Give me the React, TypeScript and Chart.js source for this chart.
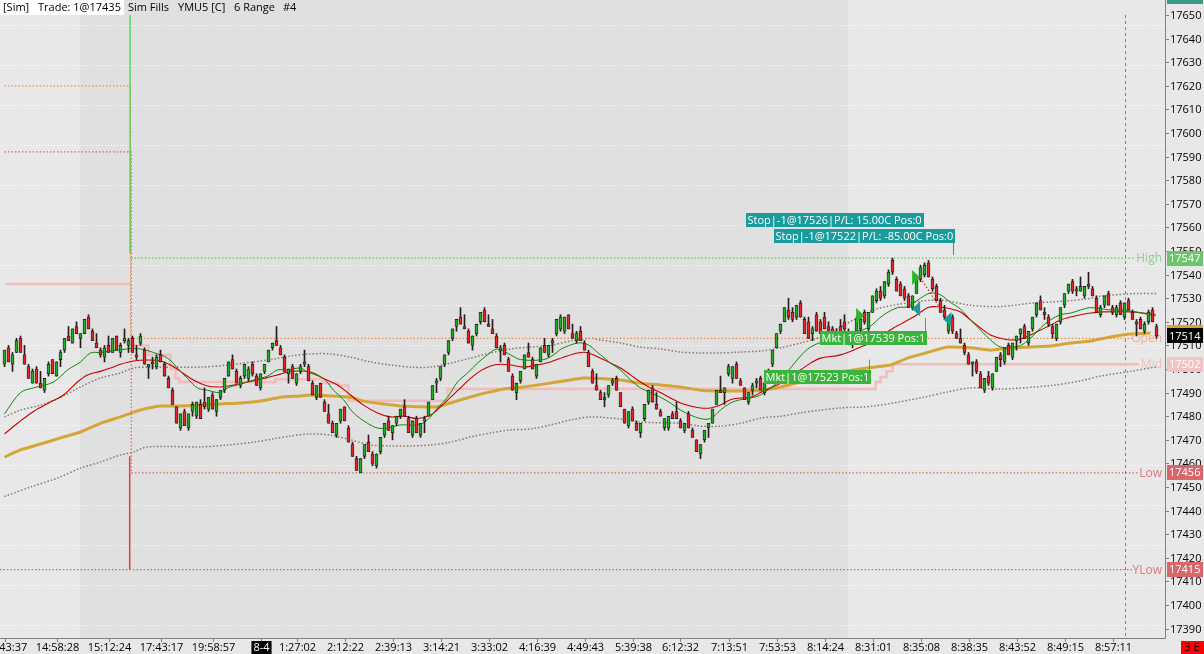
import React, { useEffect, useRef } from "react";
import { Chart, registerables } from "chart.js";

Chart.register(...registerables);

// ---------------- price bars (6 Range, YMU5) ----------------
const opens = [
  17502, 17509, 17502, 17507, 17513, 17506, 17501, 17494, 17500, 17494,
  17491, 17498, 17504, 17497, 17504, 17508, 17514, 17511, 17518, 17513,
  17515, 17522, 17516, 17511, 17508, 17505, 17510, 17507, 17514, 17507,
  17512, 17510, 17513, 17506, 17511, 17508, 17501, 17503, 17501, 17506,
  17502, 17496, 17491, 17484, 17475, 17482, 17475, 17482, 17480, 17485,
  17486, 17483, 17489, 17482, 17488, 17491, 17497, 17504, 17499, 17493,
  17497, 17496, 17502, 17497, 17492, 17499, 17503, 17509, 17512, 17509,
  17505, 17498, 17501, 17494, 17499, 17502, 17501, 17494, 17488, 17494,
  17486, 17481, 17477, 17472, 17478, 17484, 17475, 17468, 17462, 17456,
  17463, 17469, 17464, 17459, 17465, 17472, 17478, 17473, 17477, 17480,
  17484, 17479, 17472, 17479, 17472, 17478, 17480, 17487, 17494, 17496,
  17502, 17507, 17513, 17518, 17522, 17518, 17516, 17510, 17515, 17520,
  17525, 17519, 17517, 17514, 17508, 17510, 17504, 17497, 17490, 17495,
  17500, 17507, 17504, 17497, 17503, 17510, 17506, 17511, 17515, 17517,
  17516, 17523, 17515, 17512, 17516, 17511, 17507, 17499, 17493, 17490,
  17487, 17489, 17494, 17496, 17490, 17483, 17476, 17483, 17477, 17473,
  17479, 17486, 17492, 17485, 17482, 17475, 17475, 17481, 17482, 17478,
  17474, 17481, 17474, 17470, 17464, 17470, 17475, 17477, 17485, 17491,
  17490, 17498, 17496, 17502, 17495, 17492, 17486, 17491, 17494, 17496,
  17490, 17495, 17502, 17509, 17516, 17520, 17525, 17524, 17522, 17528,
  17521, 17520, 17515, 17523, 17520, 17522, 17518, 17517, 17512, 17518,
  17520, 17512, 17513, 17516, 17517, 17524, 17517, 17524, 17529, 17533,
  17531, 17536, 17546, 17538, 17536, 17534, 17531, 17526, 17532, 17538,
  17540, 17545, 17538, 17535, 17529, 17525, 17516, 17522, 17515, 17513,
  17510, 17506, 17502, 17503, 17498, 17491, 17497, 17492, 17499, 17506,
  17503, 17510, 17505, 17512, 17515, 17518, 17511, 17517, 17523, 17529,
  17524, 17522, 17518, 17513, 17520, 17527, 17533, 17537, 17533, 17533,
  17531, 17536, 17534, 17530, 17523, 17527, 17532, 17526, 17523, 17528,
  17522, 17529, 17524, 17520, 17521, 17516, 17520, 17525, 17518,
];
const highs = [
  17508, 17510, 17507, 17513, 17514, 17510, 17502, 17500, 17501, 17499,
  17496, 17503, 17504, 17503, 17508, 17513, 17518, 17517, 17520, 17515,
  17521, 17523, 17517, 17515, 17509, 17510, 17514, 17513, 17514, 17511,
  17517, 17513, 17514, 17510, 17515, 17509, 17502, 17505, 17506, 17508,
  17503, 17497, 17492, 17484, 17481, 17483, 17481, 17486, 17486, 17487,
  17492, 17488, 17490, 17487, 17491, 17496, 17503, 17506, 17500, 17497,
  17502, 17501, 17503, 17498, 17498, 17502, 17508, 17511, 17518, 17510,
  17506, 17500, 17502, 17498, 17502, 17508, 17502, 17495, 17493, 17494,
  17487, 17485, 17478, 17477, 17483, 17484, 17476, 17469, 17463, 17462,
  17468, 17472, 17465, 17464, 17471, 17477, 17480, 17476, 17480, 17483,
  17487, 17480, 17478, 17480, 17477, 17480, 17486, 17493, 17496, 17501,
  17506, 17512, 17517, 17521, 17526, 17523, 17517, 17514, 17519, 17524,
  17526, 17523, 17521, 17515, 17510, 17511, 17505, 17498, 17494, 17499,
  17506, 17511, 17505, 17502, 17509, 17513, 17510, 17513, 17521, 17523,
  17522, 17523, 17519, 17516, 17518, 17512, 17508, 17500, 17498, 17491,
  17490, 17493, 17496, 17497, 17490, 17483, 17482, 17484, 17478, 17477,
  17485, 17491, 17493, 17490, 17483, 17479, 17480, 17482, 17486, 17479,
  17477, 17482, 17475, 17470, 17468, 17474, 17477, 17483, 17491, 17497,
  17492, 17502, 17501, 17503, 17496, 17492, 17490, 17494, 17496, 17497,
  17494, 17500, 17508, 17515, 17519, 17526, 17530, 17526, 17527, 17529,
  17522, 17522, 17518, 17524, 17521, 17524, 17520, 17518, 17517, 17521,
  17523, 17517, 17516, 17522, 17522, 17525, 17524, 17531, 17534, 17535,
  17537, 17542, 17547, 17539, 17537, 17535, 17532, 17531, 17539, 17544,
  17545, 17546, 17539, 17536, 17530, 17527, 17522, 17523, 17516, 17517,
  17511, 17507, 17503, 17504, 17499, 17496, 17499, 17498, 17505, 17507,
  17509, 17511, 17511, 17514, 17517, 17519, 17516, 17522, 17528, 17531,
  17526, 17523, 17519, 17519, 17526, 17532, 17536, 17538, 17535, 17539,
  17535, 17541, 17535, 17531, 17527, 17531, 17533, 17527, 17527, 17529,
  17528, 17530, 17525, 17521, 17522, 17520, 17525, 17526, 17519,
];
const lows = [
  17501, 17503, 17499, 17507, 17507, 17502, 17496, 17494, 17494, 17492,
  17490, 17497, 17498, 17497, 17501, 17507, 17512, 17511, 17515, 17509,
  17515, 17517, 17512, 17509, 17505, 17503, 17507, 17507, 17508, 17505,
  17511, 17507, 17507, 17504, 17510, 17502, 17496, 17500, 17500, 17503,
  17497, 17492, 17485, 17477, 17474, 17476, 17474, 17480, 17479, 17479,
  17483, 17482, 17483, 17480, 17487, 17490, 17497, 17500, 17494, 17492,
  17496, 17495, 17497, 17493, 17491, 17498, 17503, 17508, 17510, 17506,
  17499, 17494, 17496, 17493, 17498, 17501, 17495, 17489, 17487, 17488,
  17482, 17477, 17473, 17471, 17477, 17478, 17469, 17463, 17457, 17456,
  17462, 17465, 17459, 17458, 17464, 17471, 17474, 17470, 17476, 17479,
  17480, 17473, 17471, 17473, 17471, 17473, 17480, 17487, 17490, 17495,
  17501, 17506, 17512, 17516, 17519, 17517, 17511, 17508, 17514, 17519,
  17520, 17518, 17515, 17509, 17503, 17506, 17499, 17491, 17487, 17494,
  17500, 17505, 17500, 17496, 17503, 17507, 17505, 17507, 17514, 17516,
  17515, 17517, 17513, 17511, 17512, 17508, 17501, 17494, 17491, 17487,
  17484, 17488, 17493, 17491, 17484, 17477, 17475, 17478, 17474, 17471,
  17478, 17485, 17486, 17483, 17480, 17474, 17474, 17479, 17479, 17475,
  17473, 17475, 17471, 17465, 17462, 17469, 17471, 17477, 17485, 17490,
  17485, 17497, 17494, 17496, 17493, 17487, 17485, 17489, 17492, 17491,
  17489, 17494, 17501, 17509, 17515, 17520, 17521, 17520, 17521, 17522,
  17515, 17513, 17512, 17516, 17515, 17517, 17515, 17511, 17511, 17514,
  17516, 17511, 17509, 17515, 17516, 17519, 17516, 17524, 17528, 17529,
  17530, 17535, 17540, 17533, 17531, 17529, 17526, 17525, 17532, 17537,
  17539, 17539, 17533, 17529, 17524, 17521, 17515, 17515, 17513, 17511,
  17506, 17502, 17497, 17498, 17492, 17490, 17493, 17491, 17499, 17501,
  17502, 17506, 17504, 17508, 17511, 17513, 17510, 17516, 17522, 17525,
  17521, 17518, 17513, 17512, 17519, 17526, 17532, 17532, 17531, 17533,
  17530, 17534, 17531, 17524, 17522, 17526, 17527, 17523, 17522, 17523,
  17521, 17525, 17521, 17514, 17517, 17515, 17519, 17520, 17513,
];
const closes = [
  17508, 17503, 17506, 17512, 17507, 17502, 17496, 17499, 17494, 17492,
  17496, 17502, 17498, 17503, 17507, 17513, 17512, 17517, 17515, 17515,
  17521, 17517, 17512, 17509, 17506, 17509, 17507, 17513, 17508, 17510,
  17513, 17512, 17507, 17505, 17514, 17502, 17502, 17502, 17505, 17503,
  17497, 17492, 17485, 17477, 17481, 17476, 17481, 17485, 17486, 17479,
  17484, 17488, 17483, 17487, 17491, 17496, 17503, 17500, 17494, 17496,
  17502, 17500, 17498, 17493, 17498, 17502, 17508, 17511, 17510, 17506,
  17499, 17500, 17496, 17498, 17501, 17503, 17495, 17489, 17493, 17488,
  17482, 17477, 17473, 17477, 17483, 17478, 17469, 17463, 17457, 17462,
  17468, 17465, 17460, 17464, 17471, 17477, 17474, 17476, 17480, 17483,
  17480, 17473, 17478, 17473, 17477, 17479, 17486, 17493, 17495, 17501,
  17506, 17512, 17517, 17521, 17519, 17517, 17511, 17514, 17519, 17524,
  17520, 17518, 17515, 17509, 17509, 17506, 17499, 17491, 17494, 17499,
  17506, 17505, 17500, 17502, 17509, 17507, 17510, 17512, 17521, 17522,
  17522, 17517, 17513, 17515, 17512, 17508, 17501, 17494, 17491, 17487,
  17488, 17493, 17495, 17491, 17484, 17477, 17482, 17478, 17474, 17477,
  17485, 17491, 17486, 17483, 17480, 17479, 17480, 17479, 17479, 17475,
  17477, 17475, 17471, 17465, 17468, 17474, 17477, 17483, 17491, 17490,
  17492, 17501, 17501, 17496, 17493, 17487, 17490, 17493, 17495, 17491,
  17494, 17499, 17508, 17515, 17519, 17526, 17522, 17521, 17527, 17522,
  17515, 17513, 17517, 17516, 17515, 17517, 17516, 17512, 17516, 17515,
  17517, 17516, 17516, 17521, 17521, 17520, 17524, 17531, 17533, 17530,
  17537, 17541, 17541, 17533, 17531, 17530, 17526, 17531, 17539, 17543,
  17544, 17539, 17534, 17529, 17524, 17522, 17521, 17516, 17513, 17511,
  17507, 17502, 17503, 17499, 17492, 17496, 17494, 17498, 17505, 17504,
  17509, 17506, 17511, 17514, 17517, 17513, 17516, 17522, 17528, 17525,
  17523, 17519, 17515, 17519, 17526, 17532, 17536, 17533, 17534, 17535,
  17535, 17535, 17531, 17524, 17526, 17531, 17527, 17524, 17526, 17523,
  17528, 17525, 17521, 17519, 17517, 17519, 17524, 17520, 17514,
];

// ---------------- indicators: [bar index, price] ----------------
const emaFast = [
  [0, 17481], [4, 17490], [7.25, 17492], [12.25, 17494.5], [15.75, 17499.6], [19, 17503],
  [21.5, 17506.8], [24, 17507], [30.75, 17508.5], [34, 17508.5], [37.25, 17507], [40.75, 17504.6],
  [44, 17499], [45.75, 17496], [48.25, 17492], [50.75, 17491], [54, 17490], [55.75, 17492],
  [59, 17493.6], [62.25, 17495.3], [65.75, 17497], [68.25, 17499.6], [70.75, 17499.6], [74, 17500.4],
  [75.75, 17498.7], [79.75, 17496], [82.25, 17491], [84.75, 17487], [87.25, 17481.4], [90.75, 17477],
  [93.25, 17475], [95.75, 17475], [99, 17476.3], [103.25, 17476.3], [105.75, 17478.4], [108.25, 17483.5],
  [110.75, 17488], [113.25, 17494.5], [115.75, 17498.3], [118.25, 17502.5], [120.75, 17506], [123.25, 17508.5],
  [126.5, 17506], [129, 17504], [134.75, 17504], [137.25, 17506], [139.75, 17509], [144.75, 17511],
  [149, 17506], [151.5, 17502.5], [154, 17499.6], [156.5, 17495.3], [159, 17492], [161.5, 17490],
  [164, 17488], [166.5, 17485.6], [169, 17482.6], [171.5, 17480.5], [174, 17479], [176.5, 17479],
  [179, 17482.6], [181.5, 17485.6], [184, 17487], [186.5, 17487.7], [189, 17489], [191.5, 17492],
  [194, 17495.3], [196.5, 17500.4], [199, 17505.5], [201.5, 17509.3], [205.75, 17512.3], [210.75, 17515],
  [215.75, 17517.4], [219.75, 17522.9], [223.25, 17526], [225.75, 17526.4], [229, 17530], [231.5, 17532.2],
  [234, 17531.4], [236.5, 17528.2], [239, 17525.4], [241.5, 17520.8], [244, 17516.5], [246.5, 17512.3],
  [249, 17509.3], [251.5, 17509.3], [254, 17510], [256.5, 17513], [259, 17517.4], [261.5, 17520.8],
  [264, 17523], [266.5, 17523.7], [269, 17525], [271.5, 17526], [276.5, 17525], [279.75, 17525],
  [283.25, 17524], [287.75, 17522.5],
];
const emaSlow = [
  [0, 17472.5], [3.25, 17477], [7.25, 17482], [11.5, 17486], [14.75, 17489], [18.25, 17494.5],
  [20.75, 17497.5], [24, 17499], [26.5, 17500.4], [29, 17502], [32.25, 17503.4], [35.75, 17503.8],
  [39, 17503.4], [41.5, 17501.7], [44, 17499], [47.25, 17495.3], [50.75, 17492.8], [54, 17492.4],
  [57.25, 17493.2], [60.75, 17494.5], [64.75, 17496], [68.25, 17497.5], [71.5, 17499], [76.5, 17498.7],
  [79.75, 17496], [83.25, 17493.2], [86.5, 17489], [89.75, 17484.7], [93.25, 17481.4], [96.5, 17479.7],
  [99.75, 17480], [103.25, 17479], [106.5, 17480.5], [109, 17484], [111.5, 17488], [114, 17492],
  [116.5, 17496], [119, 17499.2], [121.5, 17501.3], [124, 17502], [126.5, 17501.7], [129.75, 17500.8],
  [133.25, 17501.7], [136.5, 17503], [139.75, 17505], [143.25, 17506.8], [145.5, 17507], [149, 17504.6],
  [151.5, 17502.5], [154, 17500.4], [156.5, 17497.5], [159, 17494.5], [161.5, 17492], [164, 17490],
  [166.5, 17487.7], [169, 17485.6], [171.5, 17484.3], [174, 17483.5], [176.5, 17483.5], [179, 17484.7],
  [181.5, 17487], [184, 17487.7], [186.5, 17488], [189, 17490], [191.5, 17492], [194, 17494],
  [196.5, 17496.6], [199, 17499.6], [201.5, 17502.5], [204, 17504.6], [209, 17506], [214, 17509.3],
  [217.25, 17511.8], [222.25, 17517.4], [227.25, 17522], [230.75, 17526], [233.25, 17526.4], [236.5, 17525.5],
  [239, 17524.2], [241.5, 17520.8], [244, 17517.4], [246.5, 17514.4], [249, 17513], [251.5, 17512.3],
  [254, 17512.7], [256.5, 17514.4], [259, 17516.5], [261.5, 17518.6], [264, 17520.8], [266.5, 17522],
  [269, 17523], [271.5, 17523.7], [274.75, 17524.2], [281.5, 17524.2], [284.75, 17523.7], [287.75, 17523],
];
const smaGold = [
  [0, 17462.7], [4, 17465.7], [9, 17468.2], [14, 17470.8], [19, 17473.3], [24, 17477],
  [29, 17479.7], [34, 17482.6], [39, 17484.3], [44, 17484.3], [49, 17484.7], [54, 17485.2],
  [59, 17485.6], [64, 17486.4], [69, 17488], [74, 17488.6], [76.5, 17489], [81.5, 17488.6],
  [86.5, 17488], [89.75, 17486.4], [94.75, 17485.2], [99.75, 17484.3], [108.25, 17484], [111.5, 17485.6],
  [114.75, 17487.3], [118.25, 17489], [121.5, 17490.3], [124.75, 17491.5], [129.75, 17492.4], [134.75, 17493.6],
  [139.75, 17494.9], [144.75, 17496.2], [149, 17496], [154, 17495.3], [159, 17494], [164, 17493.2],
  [169, 17492.4], [174, 17491], [179, 17490.7], [184, 17490.7], [189, 17491], [194, 17492.4],
  [199, 17494.5], [204, 17497], [209, 17498.7], [214, 17500], [218.25, 17501], [221.5, 17501.7],
  [225.75, 17504.6], [230.75, 17507], [235.75, 17509.3], [241.5, 17509], [246.5, 17508], [251.5, 17508.9],
  [256.5, 17509.3], [261.5, 17509.7], [266.5, 17511], [271.5, 17511.9], [276.5, 17513.6], [281.5, 17514.8],
  [286.5, 17515.3],
];
const bandUpper = [
  [0, 17479.7], [4, 17482.6], [9, 17484.7], [14, 17488], [19, 17492.4], [24, 17496.2],
  [29, 17498.3], [32.25, 17500.4], [35.75, 17500.8], [49, 17500.8], [55.75, 17501.7], [62.25, 17503],
  [67.25, 17504.2], [71.5, 17505.5], [76.5, 17506.4], [81.5, 17506.4], [86.5, 17505], [91.5, 17503],
  [96.5, 17501.7], [101.5, 17500.8], [106.5, 17500.8], [111.5, 17502.5], [116.5, 17504.6], [121.5, 17506.8],
  [126.5, 17508.5], [131.5, 17509.3], [136.5, 17510], [141.5, 17511.9], [146.5, 17513], [149, 17512.3],
  [154, 17511], [159, 17509.3], [164, 17508.5], [169, 17507.2], [174, 17506.8], [179, 17506.8],
  [184, 17507.2], [189, 17507.6], [194, 17509], [199, 17511], [204, 17513.6], [209, 17517.8],
  [217.25, 17525], [225.75, 17528], [234, 17529.2], [241.5, 17527], [249, 17526.5], [257.25, 17528],
  [261.5, 17528.4], [269.75, 17529.5], [274.75, 17531], [283.25, 17532], [288.25, 17532],
];
const bandLower = [
  [0, 17446], [6.5, 17450], [13.25, 17453.8], [19, 17458], [24, 17460.6], [29, 17463.6],
  [32.25, 17464.8], [35.75, 17467], [49, 17467], [55.75, 17467.8], [62.25, 17469], [67.25, 17470.4],
  [71.5, 17471.6], [76.5, 17472.5], [81.5, 17472], [86.5, 17470], [91.5, 17467.8], [96.5, 17467.4],
  [101.5, 17467.4], [106.5, 17467.8], [111.5, 17469], [116.5, 17471.2], [121.5, 17472.9], [126.5, 17474.2],
  [131.5, 17474.6], [136.5, 17476.3], [141.5, 17478.4], [146.5, 17479.7], [154, 17478.8], [159, 17477.5],
  [169, 17477], [174, 17475.8], [179, 17475.8], [184, 17477], [189, 17479.2], [194, 17480],
  [199, 17481.4], [204, 17482.6], [209, 17483.5], [217.25, 17484.3], [229.75, 17488], [235.75, 17490.3],
  [241.5, 17492], [249, 17491.5], [261.5, 17493], [269, 17495], [274, 17497], [281.5, 17499],
  [288.25, 17501],
];
const midPrior = [[0.25, 17536], [31.5, 17536]];
const midSession = [
  [32, 17510], [36, 17506], [41.5, 17500], [42.75, 17496], [43.75, 17494.5], [67.75, 17495.7],
  [79.75, 17494], [83.5, 17493], [86, 17486.5], [110.75, 17491.5], [217.75, 17494.5], [219, 17496.6],
  [220.5, 17499], [222, 17502], [283.5, 17502],
];
const highJump = [[31.4, 17650], [31.4, 17549]];
const highLevel = [[31.6, 17547], [282.75, 17547]];
const openLevel = [[0, 17620], [31.5, 17620], [31.5, 17513], [282.25, 17513]];
const lowLevel = [[0, 17592], [31.7, 17592], [31.7, 17456], [283.5, 17456]];
const yLowLevel = [[-1.125, 17415], [282, 17415]];
const lowJump = [[31.3, 17415], [31.3, 17463]];
const tradeLine = [[229, 17538.6], [235.5, 17521.6]];

const levelLabels = [
  { text: "High", value: 17547, color: "#8fd08f" },
  { text: "Open", value: 17513, color: "#f3ae88" },
  { text: "Mid", value: 17502, color: "#f2bfbf" },
  { text: "Low", value: 17456, color: "#df7878" },
  { text: "YLow", value: 17415, color: "#df7878" },
];
const priceBoxes = [
  { value: 17658, text: "17658", bg: "#3a9a86", fg: "#ffffff" },
  { value: 17547, text: "17547", bg: "#6cc46c", fg: "#ffffff" },
  { value: 17515.5, text: "17516", bg: "#d6a53a", fg: "#ffffff" },
  { value: 17514, text: "17514", bg: "#000000", fg: "#ffffff" },
  { value: 17502, text: "17502", bg: "#f1c3c3", fg: "#ffffff" },
  { value: 17456, text: "17456", bg: "#d8676a", fg: "#ffffff" },
  { value: 17415, text: "17415", bg: "#d8676a", fg: "#ffffff" },
];
const tradeBoxes = [
  { text: "Stop|-1@17526|P/L: 15.00C Pos:0", index: 185.25, value: 17563.3, bg: "#1a9c9c", tip: null },
  { text: "Stop|-1@17522|P/L: -85.00C Pos:0", index: 192.25, value: 17556.4, bg: "#1a9c9c", tip: 17548.3 },
  { text: "Mkt|1@17523 Pos:1", index: 189.75, value: 17496.8, bg: "#3bb43b", tip: 17504 },
  { text: "Mkt|1@17539 Pos:1", index: 203.75, value: 17513.3, bg: "#3bb43b", tip: 17521.6 },
];
const fillArrows = [
  { index: 213.9, value: 17522.7, dir: 1, color: "#2db52d" },
  { index: 227.9, value: 17538.8, dir: 1, color: "#2db52d" },
  { index: 227.9, value: 17525.5, dir: -1, color: "#1a9c9c" },
  { index: 235.75, value: 17521, dir: -1, color: "#1a9c9c" },
];

const yTicks = [
  17390, 17400, 17410, 17420, 17430, 17440, 17450, 17460, 17470, 17480, 17490, 17500, 17510, 17520,
  17530, 17540, 17550, 17560, 17570, 17580, 17590, 17600, 17610, 17620, 17630, 17640, 17650,
];
const gridValues = [
  17645.8, 17628.8, 17611.9, 17594.9, 17578.0, 17561.0, 17544.1, 17527.1, 17510.2, 17493.2, 17476.3,
  17459.3, 17442.4, 17425.4, 17408.5, 17391.5,
];
const timeTickIndex = [0, 13, 26, 39, 52, 64, 73, 85, 97, 109, 121, 133, 145, 157, 169, 181, 193, 205, 217, 229, 241, 253, 265, 277];
const timeLabels = [
  "14:43:37", "14:58:28", "15:12:24", "17:43:17", "19:58:57", "8-4", "1:27:02", "2:12:22", "2:39:13",
  "3:14:21", "3:33:02", "4:16:39", "4:49:43", "5:39:38", "6:12:32", "7:13:51", "7:53:53", "8:14:24",
  "8:31:01", "8:35:08", "8:38:35", "8:43:52", "8:49:15", "8:57:11",
];
const dateLabel = "8-4";

const X_MIN = -1.125;
const X_MAX = 290.125;
const Y_MIN = 17386.02;
const Y_MAX = 17656.36;
const SHADE_FROM = 18.75;
const SHADE_TO = 210.75;
const CURSOR_INDEX = 280.1;

const FONT = '"Open Sans", "DejaVu Sans", sans-serif';

export default function App() {
  const ref = useRef<HTMLCanvasElement>(null);

  useEffect(() => {
    const canvas = ref.current;
    if (!canvas) return;

    const toPts = (a: number[][]) => a.map(([x, y]) => ({ x, y }));
    const line = (label: string, pts: number[][], color: string, width: number, dash: number[], order: number, extra: any = {}) => ({
      type: "line" as const,
      label,
      data: toPts(pts),
      borderColor: color,
      borderWidth: width,
      borderDash: dash,
      pointRadius: 0,
      fill: false,
      tension: 0,
      order,
      ...extra,
    });

    const drawLevelLabels = (chart: any) => {
      const { ctx, scales } = chart;
      const y = scales.y;
      ctx.save();
      ctx.font = `12px ${FONT}`;
      ctx.textAlign = "right";
      ctx.textBaseline = "middle";
      for (const l of levelLabels) {
        ctx.fillStyle = l.color;
        ctx.fillText(l.text, 1162, y.getPixelForValue(l.value) + 0.5);
      }
      ctx.restore();
    };

    const plugin = {
      id: "ninjaDecor",
      beforeDraw(chart: any) {
        const { ctx, chartArea: a, scales } = chart;
        const x = scales.x;
        const y = scales.y;
        ctx.save();
        ctx.fillStyle = "#e8e8e8";
        ctx.fillRect(0, 0, chart.width, chart.height);
        const s0 = x.getPixelForValue(SHADE_FROM);
        const s1 = x.getPixelForValue(SHADE_TO);
        ctx.fillStyle = "#e0e0e0";
        ctx.fillRect(Math.round(s0), a.top, Math.round(s1 - s0), a.bottom - a.top);
        ctx.strokeStyle = "#ffffff";
        ctx.lineWidth = 1;
        ctx.setLineDash([1, 2]);
        for (const g of gridValues) {
          const py = Math.round(y.getPixelForValue(g)) + 0.5;
          ctx.beginPath();
          ctx.moveTo(a.left, py);
          ctx.lineTo(a.right, py);
          ctx.stroke();
        }
        ctx.strokeStyle = "#808080";
        ctx.setLineDash([3, 3]);
        const cx = Math.round(x.getPixelForValue(CURSOR_INDEX)) + 0.5;
        ctx.beginPath();
        ctx.moveTo(cx, a.top + 15);
        ctx.lineTo(cx, a.bottom);
        ctx.stroke();
        ctx.restore();
      },
      afterDatasetDraw(chart: any, args: any) {
        if (chart.data.datasets[args.index].label === "High") drawLevelLabels(chart);
      },
      afterDraw(chart: any) {
        const { ctx, chartArea: a, scales } = chart;
        const x = scales.x;
        const y = scales.y;
        ctx.save();
        ctx.setLineDash([]);

        // trade boxes
        ctx.font = `11px ${FONT}`;
        ctx.textBaseline = "middle";
        ctx.textAlign = "left";
        for (const b of tradeBoxes) {
          const left = Math.round(x.getPixelForValue(b.index));
          const cy = Math.round(y.getPixelForValue(b.value));
          const w = Math.ceil(ctx.measureText(b.text).width) + 3;
          const h = 14;
          ctx.fillStyle = b.bg;
          ctx.fillRect(left, cy - 7, w, h);
          ctx.fillStyle = "#ffffff";
          ctx.fillText(b.text, left + 1.5, cy + 0.5);
          if (b.tip !== null) {
            const ty = y.getPixelForValue(b.tip);
            const ex = left + w - 1.5;
            ctx.strokeStyle = b.bg;
            ctx.lineWidth = 1;
            ctx.beginPath();
            if (ty < cy) {
              ctx.moveTo(ex, cy - 7);
              ctx.lineTo(ex, ty);
            } else {
              ctx.moveTo(ex, cy + 7);
              ctx.lineTo(ex, ty);
            }
            ctx.stroke();
          }
        }
        // fill arrows
        for (const f of fillArrows) {
          const px = x.getPixelForValue(f.index);
          const py = y.getPixelForValue(f.value);
          ctx.fillStyle = f.color;
          ctx.beginPath();
          ctx.moveTo(px - 4 * f.dir, py - 7.5);
          ctx.lineTo(px + 4 * f.dir, py);
          ctx.lineTo(px - 4 * f.dir, py + 7.5);
          ctx.closePath();
          ctx.fill();
        }

        // axes
        ctx.fillStyle = "#e8e8e8";
        ctx.fillRect(a.right, 0, chart.width - a.right, chart.height);
        ctx.fillRect(0, a.bottom, chart.width, chart.height - a.bottom);
        ctx.strokeStyle = "#808080";
        ctx.lineWidth = 1;
        ctx.beginPath();
        ctx.moveTo(a.right + 0.5, 0);
        ctx.lineTo(a.right + 0.5, a.bottom + 0.5);
        ctx.lineTo(0, a.bottom + 0.5);
        ctx.stroke();

        ctx.font = `11px ${FONT}`;
        ctx.textAlign = "left";
        ctx.textBaseline = "middle";
        for (const t of yTicks) {
          const py = Math.round(y.getPixelForValue(t)) + 0.5;
          ctx.strokeStyle = "#808080";
          ctx.beginPath();
          ctx.moveTo(a.right + 1, py);
          ctx.lineTo(a.right + 4, py);
          ctx.stroke();
          ctx.fillStyle = "#000000";
          ctx.fillText(String(t), a.right + 5, py + 0.5);
        }
        for (const b of priceBoxes) {
          const py = y.getPixelForValue(b.value);
          ctx.fillStyle = b.bg;
          ctx.fillRect(a.right + 2, Math.round(py - 7.5), 36, 15);
          ctx.fillStyle = b.fg;
          ctx.fillText(b.text, a.right + 4, py + 0.5);
        }

        ctx.textAlign = "center";
        timeTickIndex.forEach((ti, k) => {
          const px = Math.round(x.getPixelForValue(ti)) + 0.5;
          ctx.strokeStyle = "#808080";
          ctx.beginPath();
          ctx.moveTo(px, a.bottom + 1);
          ctx.lineTo(px, a.bottom + 4);
          ctx.stroke();
          const label = timeLabels[k];
          if (label === dateLabel) {
            const w = ctx.measureText(label).width + 4;
            ctx.fillStyle = "#000000";
            ctx.fillRect(px - w / 2, a.bottom + 3, w, chart.height - a.bottom - 3);
            ctx.fillStyle = "#ffffff";
          } else {
            ctx.fillStyle = "#000000";
          }
          ctx.fillText(label, px, a.bottom + 9.5);
        });

        // status box
        ctx.fillStyle = "#ff0000";
        ctx.fillRect(1181, a.bottom + 3, 23, chart.height - a.bottom - 3);
        ctx.fillStyle = "#000000";
        ctx.fillText("3 E", 1192, a.bottom + 9.5);

        // header
        ctx.fillStyle = "#ffffff";
        ctx.fillRect(0, 0, 124, 15);
        ctx.font = `11px ${FONT}`;
        ctx.textAlign = "left";
        ctx.fillStyle = "#000000";
        ctx.fillText("[Sim]", 3, 7.5);
        ctx.fillText("Trade: 1@17435", 38, 7.5);
        ctx.fillText("Sim Fills", 128, 7.5);
        ctx.fillText("YMU5 [C]", 178, 7.5);
        ctx.fillText("6 Range", 234, 7.5);
        ctx.fillText("#4", 283, 7.5);
        ctx.restore();
      },
    };

    const bodyColors = opens.map((o, i) => (closes[i] >= o ? "#22ad22" : "#e5262b"));

    const chart = new Chart(canvas, {
      type: "bar",
      data: {
        datasets: [
          {
            type: "bar",
            label: "body",
            data: opens.map((o, i) => ({ x: i, y: [o, closes[i]] })) as any,
            backgroundColor: bodyColors,
            borderColor: "#1e1e1e",
            borderWidth: 0.8,
            borderSkipped: false,
            barThickness: 3,
            grouped: false,
            order: 1,
          } as any,
          {
            type: "bar",
            label: "wick",
            data: lows.map((l, i) => ({ x: i, y: [l, highs[i]] })) as any,
            backgroundColor: "#2a1c1c",
            borderWidth: 0,
            barThickness: 1,
            grouped: false,
            order: 2,
          } as any,
          line("trade", tradeLine, "#d02020", 1.2, [1.5, 2], 0),
          line("emaFast", emaFast, "#0a8a0a", 1, [], 3, { tension: 0.35 }),
          line("emaSlow", emaSlow, "#c40000", 1.1, [], 4, { tension: 0.35 }),
          line("High", highLevel, "#5cc85c", 1.2, [1.5, 2], 5),
          line("highJump", highJump, "#3fd03f", 1.2, [], 6),
          line("open", openLevel, "#f08a4b", 1.2, [1.5, 2], 7),
          line("low", lowLevel, "#e0645a", 1.2, [1.5, 2], 8),
          line("yLow", yLowLevel, "#d9625f", 1.2, [1.5, 2], 9),
          line("lowJump", lowJump, "#e03c3c", 1.5, [], 10),
          line("gold", smaGold, "#d4a637", 3, [], 11, { tension: 0.2 }),
          line("midPrior", midPrior, "#f2bcbc", 2.5, [], 12),
          line("mid", midSession, "#f2bcbc", 2.5, [], 13, { stepped: true }),
          line("bandUpper", bandUpper, "#85766a", 1.5, [1.5, 2], 14, { tension: 0.3 }),
          line("bandLower", bandLower, "#85766a", 1.5, [1.5, 2], 15, { tension: 0.3 }),
        ] as any,
      },
      options: {
        animation: false,
        responsive: false,
        events: [],
        layout: { padding: { left: 0, top: 0, right: 39, bottom: 16 } },
        plugins: { legend: { display: false }, tooltip: { enabled: false } },
        scales: {
          x: { type: "linear", display: false, min: X_MIN, max: X_MAX, offset: false },
          y: { type: "linear", display: false, min: Y_MIN, max: Y_MAX },
        },
      } as any,
      plugins: [plugin],
    });

    return () => chart.destroy();
  }, []);

  return (
    <div style={{ position: "fixed", left: 0, top: 0, width: 1204, height: 654, background: "#e8e8e8" }}>
      <canvas ref={ref} width={1204} height={654} style={{ display: "block", width: 1204, height: 654 }} />
    </div>
  );
}
